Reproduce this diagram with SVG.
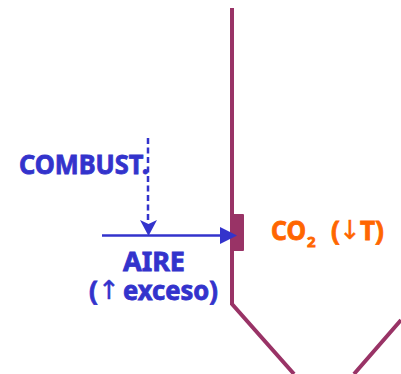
<svg xmlns="http://www.w3.org/2000/svg" width="401" height="374" viewBox="0 0 401 374">
<style>
.t{font-family:"Noto Sans","DejaVu Sans",sans-serif;font-weight:bold;font-size:26px;stroke-width:.8px}
.r{font-family:"DejaVu Sans",sans-serif;font-weight:normal;font-size:26px;stroke-width:.4px}
.b{fill:#3333cc;stroke:#3333cc}
.o{fill:#ff6600;stroke:#ff6600}
.w{fill:none;stroke:#993366;stroke-width:4}
.c{fill:none;stroke:#3333cc;stroke-width:2.500}
</style>
<g id="furnace">
<path class="w" d="M232 8V304L294 374M401 320L354 374"/>
<rect x="232" y="214" width="12" height="37" rx="1" fill="#993366"/>
</g>
<g id="connectors">
<path class="c" d="M148 138V222" stroke-dasharray="6 3.500"/>
<path d="M140 220L148.500 224L157 220L148.500 236Z" fill="#3333cc"/>
<path class="c" d="M102 235.500H222"/>
<path d="M220 227L237 235.500L220 244Z" fill="#3333cc"/>
</g>
<g id="combust"><text class="t b" x="19" y="174" textLength="130" lengthAdjust="spacingAndGlyphs">COMBUST.</text></g>
<g id="aire">
<text class="t b" x="123" y="271" textLength="62" lengthAdjust="spacingAndGlyphs">AIRE</text>
<text class="t b" x="89" y="300">(</text>
<text class="r b" x="98" y="299">↑</text>
<text class="t b" x="123" y="300" textLength="95" lengthAdjust="spacingAndGlyphs">exceso)</text>
</g>
<g id="co2">
<text class="t o" x="271" y="240" textLength="35" lengthAdjust="spacingAndGlyphs">CO</text>
<text class="t o" x="307" y="247" style="font-size:15px">2</text>
<text class="t o" x="331" y="240">(</text>
<text class="r o" x="339" y="239">↓</text>
<text class="t o" x="360" y="240" textLength="24" lengthAdjust="spacingAndGlyphs">T)</text>
</g>
</svg>
